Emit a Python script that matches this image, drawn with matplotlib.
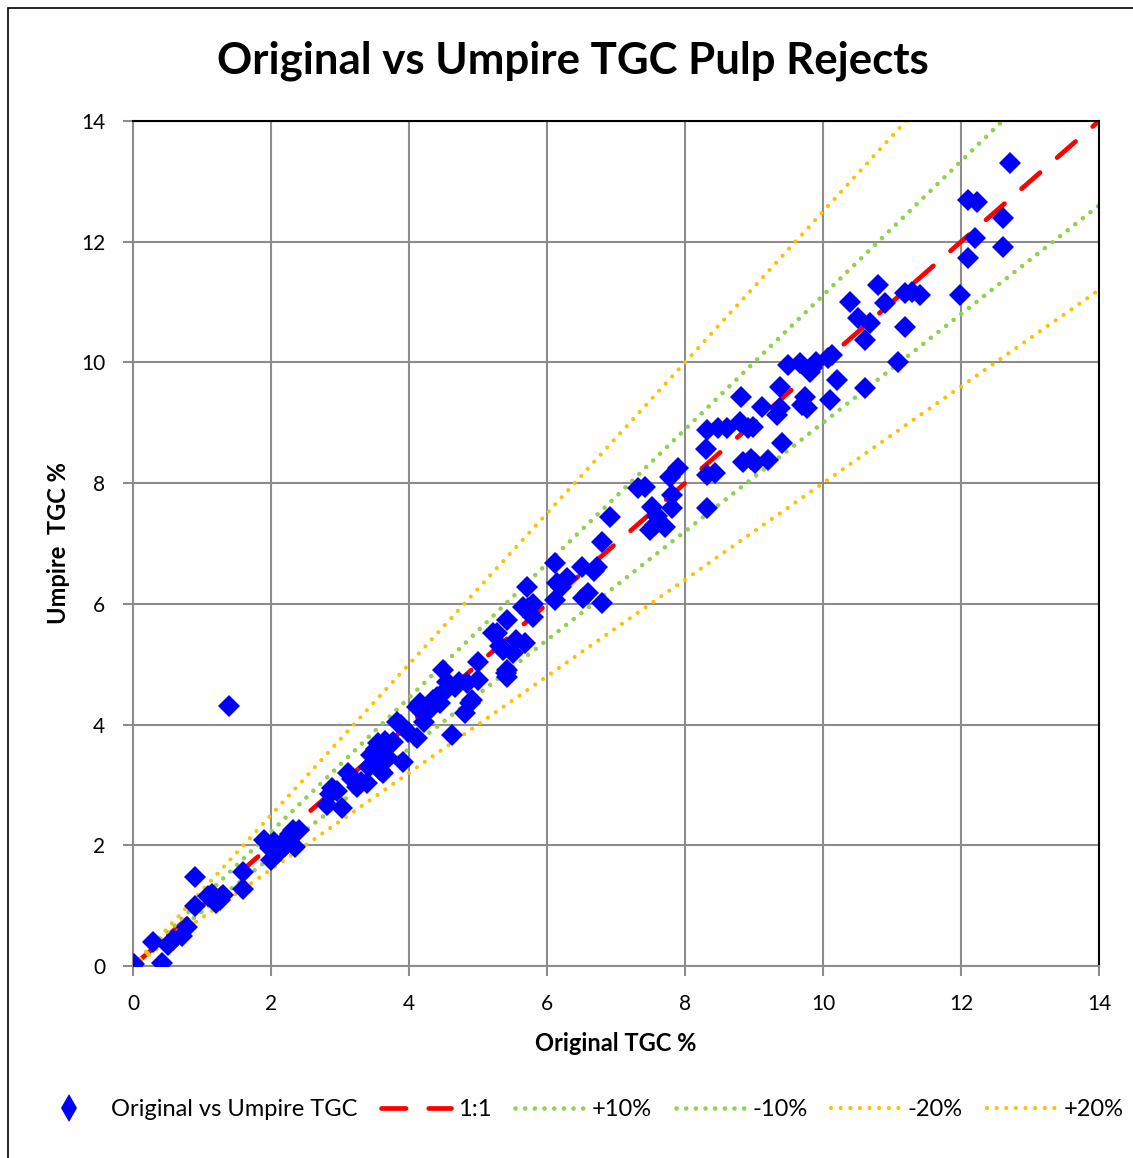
import numpy as np
import matplotlib.pyplot as plt
from matplotlib.lines import Line2D
from matplotlib.patches import Rectangle

plt.rcParams['font.family'] = ['Lato', 'DejaVu Sans']

# original vs umpire TGC values (%)
original = [
    0.02, 0.29, 0.42, 0.51, 0.58, 0.71, 0.78, 0.90, 0.90,
    1.09, 1.15, 1.21, 1.26, 1.30, 1.39, 1.60, 1.60, 1.90, 1.98,
    2.00, 2.05, 2.10, 2.15, 2.20, 2.28, 2.35, 2.32, 2.40, 2.81, 2.85, 2.88, 2.95,
    3.03, 3.12, 3.18, 3.25, 3.30, 3.39, 3.42, 3.45, 3.48, 3.52, 3.55, 3.58,
    3.62, 3.65, 3.70, 3.77, 3.83, 3.88, 3.91, 3.98,
    4.12, 4.12, 4.16, 4.22, 4.30, 4.35, 4.40, 4.45, 4.49, 4.52, 4.55, 4.62,
    4.66, 4.72, 4.81, 4.84, 4.88, 4.91, 5.00, 5.00,
    5.22, 5.27, 5.32, 5.36, 5.40, 5.42, 5.42, 5.42, 5.51, 5.55, 5.65, 5.68,
    5.71, 5.72, 5.80, 5.80,
    6.12, 6.12, 6.14, 6.20, 6.29, 6.51, 6.52, 6.60, 6.72, 6.68, 6.80, 6.80, 6.91,
    7.32, 7.42, 7.49, 7.52, 7.57, 7.60, 7.71, 7.78, 7.81, 7.81, 7.90,
    8.30, 8.32, 8.32, 8.32, 8.43, 8.48, 8.61, 8.80, 8.81, 8.84, 8.91, 8.95, 8.99,
    9.01, 9.12, 9.20, 9.33, 9.38, 9.38, 9.41, 9.49, 9.67, 9.70, 9.74, 9.77,
    9.81, 9.84, 9.90,
    10.07, 10.10, 10.13, 10.20, 10.39, 10.51, 10.61, 10.61, 10.68, 10.80, 10.90,
    11.09, 11.19, 11.19, 11.29, 11.41, 11.99,
    12.10, 12.23, 12.20, 12.10, 12.61, 12.61, 12.71,
]
umpire = [
    0.03, 0.40, 0.05, 0.35, 0.43, 0.50, 0.65, 1.00, 1.47,
    1.16, 1.20, 1.04, 1.10, 1.18, 4.31, 1.56, 1.28, 2.08, 1.95,
    1.75, 2.05, 1.88, 2.00, 1.98, 2.18, 1.97, 2.25, 2.25, 2.67, 2.85, 2.95, 2.90,
    2.62, 3.20, 3.10, 2.97, 3.05, 3.03, 3.30, 3.50, 3.36, 3.60, 3.69, 3.25,
    3.20, 3.72, 3.45, 3.71, 4.04, 4.00, 3.38, 3.88,
    3.78, 4.29, 4.36, 4.05, 4.25, 4.40, 4.46, 4.36, 4.90, 4.55, 4.70, 3.83,
    4.62, 4.70, 4.19, 4.69, 4.35, 4.41, 5.04, 4.74,
    5.52, 5.52, 5.30, 5.24, 4.85, 4.79, 4.90, 5.73, 5.18, 5.40, 5.95, 5.35,
    6.28, 5.93, 5.78, 6.00,
    6.06, 6.68, 6.35, 6.28, 6.43, 6.61, 6.10, 6.18, 6.61, 6.55, 6.01, 7.02, 7.44,
    7.92, 7.94, 7.22, 7.60, 7.30, 7.45, 7.27, 8.10, 7.59, 7.80, 8.25,
    8.57, 7.59, 8.13, 8.88, 8.17, 8.91, 8.91, 9.01, 9.43, 8.35, 8.91, 8.40, 8.93,
    8.33, 9.26, 8.38, 9.13, 9.24, 9.59, 8.66, 9.96, 9.99, 9.29, 9.43, 9.24,
    9.84, 9.91, 10.00,
    10.07, 9.38, 10.12, 9.71, 11.00, 10.74, 9.58, 10.37, 10.65, 11.28, 10.98,
    10.01, 11.15, 10.59, 11.17, 11.12, 11.12,
    12.69, 12.66, 12.06, 11.73, 12.39, 11.91, 13.30,
]

# reference lines: label, slope factor
guides = [('1:1', 1.0), ('+10%', 1 / 0.9), ('-10%', 0.9),
          ('-20%', 0.8), ('+20%', 1 / 0.8)]
axis_max = 14
ticks = [0, 2, 4, 6, 8, 10, 12, 14]

fig = plt.figure(figsize=(11.33, 11.58), dpi=100)
ax = fig.add_axes([133 / 1133, 1 - 966 / 1158, 966 / 1133, 845 / 1158])

# outer chart border
fig.patches.append(Rectangle((8 / 1133, -0.01), 1.2, 1 - 8 / 1158 + 0.01,
                             transform=fig.transFigure, fill=False,
                             edgecolor='black', linewidth=1.2))

gx = np.array([0, axis_max], dtype=float)
dots = (0, (0.01, 2.1))
styles = {
    '1:1': dict(color='#FF0000', lw=3.4, ls=(0, (5.2, 4.8)),
                dash_capstyle='round'),
    '+10%': dict(color='#92D050', lw=3.3, ls=dots, dash_capstyle='round'),
    '-10%': dict(color='#92D050', lw=3.3, ls=dots, dash_capstyle='round'),
    '-20%': dict(color='#FFC000', lw=3.0, ls=(0, (0.01, 2.3)),
                 dash_capstyle='round'),
    '+20%': dict(color='#FFC000', lw=3.0, ls=(0, (0.01, 2.3)),
                 dash_capstyle='round'),
}
handles = []
for label, k in guides:
    line, = ax.plot(gx, gx * k, label=label, zorder=2, **styles[label])
    handles.append(line)

ax.plot(original, umpire, ls='none', marker='D', ms=11,
        color='#0000FF', mew=0, zorder=3)

ax.set_xlim(0, axis_max)
ax.set_ylim(0, axis_max)
ax.set_xticks(ticks)
ax.set_yticks(ticks)
ax.grid(True, color='#8C8C8C', linewidth=1.5)
ax.set_axisbelow(True)
ax.tick_params(direction='out', length=7, width=1.5, color='#8C8C8C',
               labelsize=15, pad=13)
for side in ('left', 'bottom'):
    ax.spines[side].set_color('#8C8C8C')
    ax.spines[side].set_linewidth(1.5)
for side in ('top', 'right'):
    ax.spines[side].set_color('black')
    ax.spines[side].set_linewidth(1.5)

ax.set_xlabel('Original TGC %', fontsize=17, fontweight='bold', labelpad=13)
ax.set_ylabel('Umpire  TGC %', fontsize=17, fontweight='bold', labelpad=8)
fig.text(0.506, 1 - 61 / 1158, 'Original vs Umpire TGC Pulp Rejects',
         ha='center', va='center', fontsize=31.5, fontweight='bold')

marker_handle = Line2D([], [], ls='none', marker='d', ms=14, color='#0000FF',
                       mew=0)
fig.legend([marker_handle] + handles,
           ['Original vs Umpire TGC'] + [g[0] for g in guides],
           loc='center', bbox_to_anchor=(0.511, 1 - 1110 / 1158), ncol=6,
           frameon=False, fontsize=17, handlelength=2.95, handletextpad=0.3,
           columnspacing=1.0)

fig.savefig('out.png', dpi=100)
